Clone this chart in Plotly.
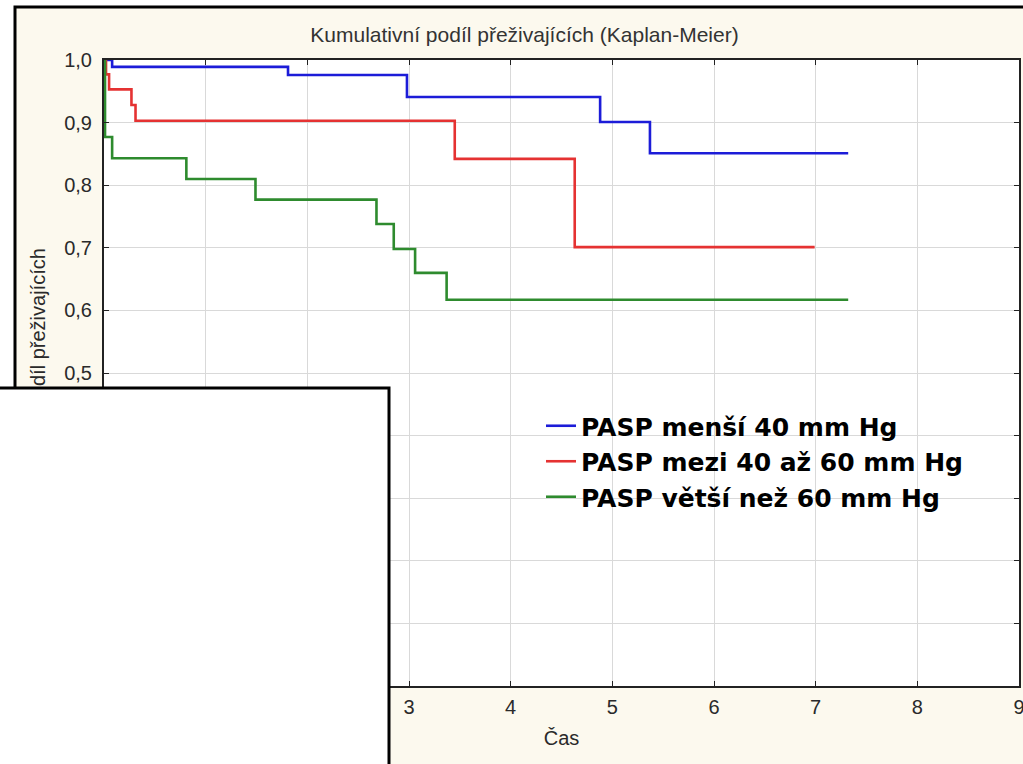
import plotly.graph_objects as go

# ---- data ----
series_names = ["PASP menší 40 mm Hg", "PASP mezi 40 až 60 mm Hg", "PASP větší než 60 mm Hg"]
series_colors = ["#1c1cd8", "#e53232", "#2e8b2e"]

blue_t = [0, 0.08, 1.81, 2.98, 4.88, 5.37, 7.32]
blue_s = [1.0, 0.989, 0.976, 0.941, 0.901, 0.851, 0.851]

red_t = [0, 0.02, 0.05, 0.27, 0.31, 3.45, 4.63, 6.99]
red_s = [1.0, 0.977, 0.953, 0.928, 0.903, 0.842, 0.701, 0.701]

green_t = [0, 0.01, 0.08, 0.81, 1.49, 2.68, 2.85, 3.06, 3.37, 7.32]
green_s = [1.0, 0.877, 0.843, 0.810, 0.777, 0.738, 0.698, 0.660, 0.617, 0.617]

x_ticks = [0, 1, 2, 3, 4, 5, 6, 7, 8, 9]
y_ticks = [0.0, 0.1, 0.2, 0.3, 0.4, 0.5, 0.6, 0.7, 0.8, 0.9, 1.0]

title_text = "Kumulativní podíl přeživajících (Kaplan-Meier)"
x_title = "Čas"
y_title_visible = "díl přeživajících"

cream = "#fcf9ee"
font_family = "Liberation Sans, Arial, sans-serif"

fig = go.Figure()
for name, color, t, s in zip(series_names, series_colors,
                             [blue_t, red_t, green_t], [blue_s, red_s, green_s]):
    fig.add_trace(go.Scatter(x=t, y=s, mode="lines", name=name,
                             line=dict(color=color, width=2.6, shape="hv")))

W, H = 1023, 764
L, R, T, B = 104, 4, 60, 78
pw, ph = W - L - R, H - T - B

def px_x(p):  # window pixel -> paper x
    return (p - L) / pw

def px_y(p):  # window pixel -> paper y
    return (H - B - p) / ph

shapes = [
    # outer frame (cream panel with black border)
    dict(type="rect", xref="paper", yref="paper", layer="below",
         x0=px_x(15), x1=px_x(1040), y0=px_y(790), y1=px_y(7),
         fillcolor=cream, line=dict(color="black", width=3)),
    # plot area white
    dict(type="rect", xref="paper", yref="paper", layer="below",
         x0=0, x1=1, y0=0, y1=1, fillcolor="white", line=dict(width=0)),
    # overlaid white box in lower-left corner
    dict(type="rect", xref="paper", yref="paper", layer="above",
         x0=px_x(-20), x1=px_x(389), y0=px_y(800), y1=px_y(388),
         fillcolor="white", line=dict(color="black", width=3)),
]

fig.update_layout(
    width=W, height=H,
    margin=dict(l=L, r=R, t=T, b=B, pad=0, autoexpand=False),
    paper_bgcolor="white",
    plot_bgcolor="white",
    separators=", ",
    font=dict(family=font_family, color="#2a2a2a"),
    title=dict(text=title_text, x=524.5 / W, xanchor="center", xref="container",
               y=1 - 35 / H, yanchor="middle", yref="container",
               font=dict(size=21, color="#333333", family=font_family)),
    xaxis=dict(range=[0, 9], tickvals=x_ticks, ticks="inside", ticklen=5,
               tickcolor="#222", tickwidth=1, showline=True, linecolor="#222",
               linewidth=2, mirror="ticks", showgrid=True, gridcolor="#d9d9d9",
               gridwidth=1, zeroline=False, tickfont=dict(size=20, color="#2a2a2a"),
               ticklabelstandoff=2, automargin=False, ticklabeloverflow="allow",
               title=dict(text=x_title, font=dict(size=20, color="#2a2a2a"), standoff=14)),
    yaxis=dict(range=[0, 1.0], tickvals=y_ticks, tickformat=".1f", ticks="inside",
               ticklen=5, tickcolor="#222", tickwidth=1, showline=True,
               linecolor="#222", linewidth=2, mirror="ticks", showgrid=True,
               gridcolor="#d9d9d9", gridwidth=1, zeroline=False,
               tickfont=dict(size=20, color="#2a2a2a"), ticklabelstandoff=6,
               automargin=False),
    legend=dict(x=px_x(541), y=px_y(403), xanchor="left", yanchor="top",
                bgcolor="rgba(0,0,0,0)", borderwidth=0,
                font=dict(size=25, color="black", family="DejaVu Sans, sans-serif",
                          weight="bold")),
    showlegend=True,
    shapes=shapes,
    annotations=[
        dict(text=y_title_visible, textangle=-90, xref="paper", yref="paper",
             x=px_x(38), y=px_y(388), xanchor="center", yanchor="bottom",
             showarrow=False, font=dict(size=20, color="#2a2a2a", family=font_family)),
    ],
)

fig.write_html("out.html",
               config={"displayModeBar": False},
               post_script="document.body.style.margin='0px';")
